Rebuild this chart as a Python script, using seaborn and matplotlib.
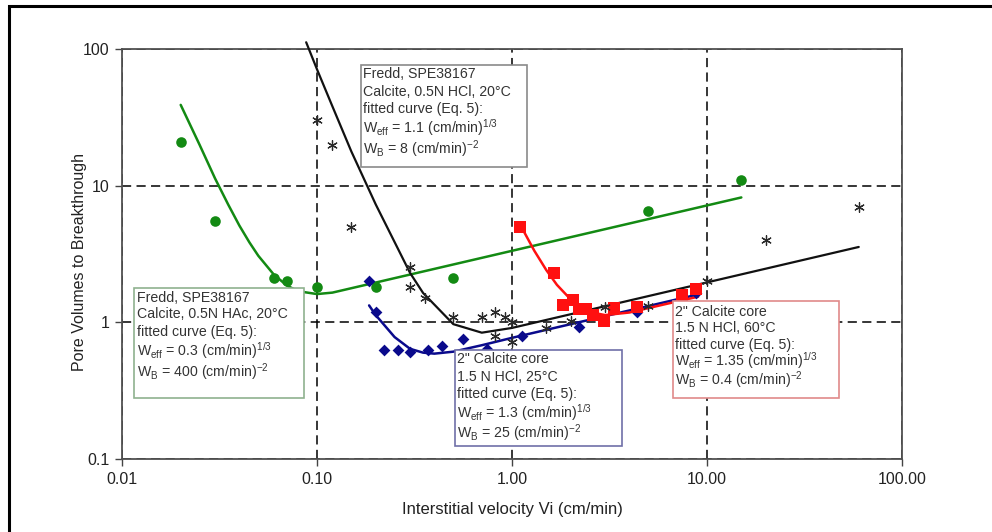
import matplotlib
matplotlib.use("Agg")
import matplotlib.pyplot as plt
from matplotlib.patches import Rectangle
import seaborn as sns

green_x = [0.02, 0.03, 0.06, 0.07, 0.1, 0.2, 0.5, 5, 15]
green_y = [21, 5.5, 2.1, 2.0, 1.8, 1.8, 2.1, 6.5, 11]

black_x = [0.1, 0.12, 0.15, 0.3, 0.3, 0.36, 0.5, 0.7, 0.82, 0.92, 1.0, 0.82, 1.0,
           1.5, 2.0, 3.0, 5.0, 10, 20, 60]
black_y = [30, 20, 5.0, 2.55, 1.8, 1.5, 1.1, 1.1, 1.2, 1.1, 1.0, 0.8, 0.72,
           0.91, 1.02, 1.3, 1.31, 2.0, 4.0, 7.0]

blue_x = [0.185, 0.2, 0.22, 0.26, 0.3, 0.37, 0.44, 0.56, 0.74, 1.12, 2.2, 4.4, 8.8]
blue_y = [2.0, 1.2, 0.63, 0.63, 0.61, 0.63, 0.67, 0.75, 0.64, 0.79, 0.93, 1.2, 1.63]

red_x = [1.1, 1.65, 1.83, 2.05, 2.21, 2.41, 2.59, 2.96, 3.33, 4.4, 7.4, 8.8]
red_y = [5.0, 2.3, 1.35, 1.45, 1.25, 1.25, 1.14, 1.03, 1.28, 1.30, 1.58, 1.74]

# fitted curves (Eq. 5)
green_fit_x = [0.02, 0.025, 0.03, 0.035, 0.04, 0.045, 0.05, 0.06, 0.07, 0.08, 0.1, 0.12, 15]
green_fit_y = [39, 19.9, 11.3, 7.3, 5.1, 3.85, 3.07, 2.24, 1.86, 1.69, 1.61, 1.65, 8.2]

black_fit_x = [0.088, 0.1, 0.12, 0.15, 0.2, 0.3, 0.35, 0.5, 0.7, 1, 60]
black_fit_y = [112, 71, 38, 17.8, 7.3, 2.3, 1.64, 0.97, 0.84, 0.91, 3.56]

blue_fit_x = [0.185, 0.2, 0.25, 0.3, 0.35, 0.4, 0.5, 0.7, 1, 9]
blue_fit_y = [1.33, 1.13, 0.78, 0.64, 0.60, 0.59, 0.61, 0.68, 0.77, 1.6]

red_fit_x = [1.1, 1.3, 1.5, 1.7, 2, 2.5, 3, 4, 6, 9]
red_fit_y = [5.2, 3.35, 2.41, 1.88, 1.47, 1.19, 1.13, 1.18, 1.35, 1.54]

x_ticks = [0.01, 0.1, 1, 10, 100]
x_tick_labels = ["0.01", "0.10", "1.00", "10.00", "100.00"]
y_ticks = [0.1, 1, 10, 100]
y_tick_labels = ["0.1", "1", "10", "100"]

GREEN = "#138a13"
BLUE = "#0a0a8c"
RED = "#ff1010"
BLACK = "#111111"

sns.set_style("white")
plt.rcParams["font.family"] = ["Liberation Sans", "DejaVu Sans"]
plt.rcParams["mathtext.fontset"] = "custom"
plt.rcParams["mathtext.rm"] = "Liberation Sans"
plt.rcParams["mathtext.it"] = "Liberation Sans:italic"

W, H = 992, 532
fig = plt.figure(figsize=(W / 100, H / 100), dpi=100)
ax = fig.add_axes([122 / W, 1 - 459 / H, 780 / W, 410 / H])

# fitted curves
sns.lineplot(x=green_fit_x, y=green_fit_y, color=GREEN, lw=1.8, sort=False, ax=ax, zorder=3)
sns.lineplot(x=black_fit_x, y=black_fit_y, color=BLACK, lw=1.6, sort=False, ax=ax,
             zorder=3, clip_on=False)
sns.lineplot(x=blue_fit_x, y=blue_fit_y, color=BLUE, lw=1.8, sort=False, ax=ax, zorder=3)
sns.lineplot(x=red_fit_x, y=red_fit_y, color=RED, lw=1.8, sort=False, ax=ax, zorder=3)

# measured points
sns.scatterplot(x=green_x, y=green_y, color=GREEN, marker="o", s=58, linewidth=0,
                ax=ax, zorder=4)
sns.scatterplot(x=blue_x, y=blue_y, color=BLUE, marker="D", s=36, linewidth=0,
                ax=ax, zorder=4)
sns.scatterplot(x=red_x, y=red_y, color=RED, marker="s", s=68, linewidth=0,
                ax=ax, zorder=4)
ax.scatter(black_x, black_y, marker=(6, 2, 0), s=48, color="#2a2a2a", linewidths=0.9,
           zorder=4)

ax.set_xscale("log")
ax.set_yscale("log")
ax.set_xlim(0.01, 100)
ax.set_ylim(0.1, 100)
ax.minorticks_off()
ax.set_xticks(x_ticks, x_tick_labels)
ax.set_yticks(y_ticks, y_tick_labels)
ax.tick_params(axis="both", which="major", direction="out", length=5, width=1,
               color="#444444", labelsize=11.5, labelcolor="#222222", pad=4,
               left=True, bottom=True)
ax.grid(True, which="major", color="black", lw=1.1, ls=(0, (6, 3.5)))
for side, sp in ax.spines.items():
    sp.set_color("#505050")
    sp.set_linewidth(1.3)

ax.set_xlabel("Interstitial velocity Vi (cm/min)", fontsize=12, color="#222222",
              labelpad=11)
ax.set_ylabel("Pore Volumes to Breakthrough", fontsize=11.5, color="#222222")
ax.yaxis.set_label_coords((87 - 122) / 780, 0.48)


def px(x, y):
    return x / W, 1 - y / H


def note_box(x0, y0, x1, y1, edge, tx, line_ys, lines):
    fig.add_artist(Rectangle(px(x0, y1), (x1 - x0) / W, (y1 - y0) / H,
                             transform=fig.transFigure, facecolor="white",
                             edgecolor=edge, lw=1.2, zorder=10))
    for ly, txt in zip(line_ys, lines):
        fig.text(*px(tx, ly + 5), txt, fontsize=10.2, color="#333333",
                 ha="left", va="baseline", zorder=11)


note_box(361, 65, 527, 167, "#8a8a8a", 363, [73, 91, 108, 128, 149],
         ["Fredd, SPE38167", "Calcite, 0.5N HCl, 20°C", "fitted curve (Eq. 5):",
          r"W$_\mathrm{eff}$ = 1.1 (cm/min)$^\mathrm{1/3}$",
          r"W$_\mathrm{B}$ = 8 (cm/min)$^\mathrm{-2}$"])
note_box(134, 288, 304, 398, "#8fb28f", 137, [297, 313, 331, 351, 372],
         ["Fredd, SPE38167", "Calcite, 0.5N HAc, 20°C", "fitted curve (Eq. 5):",
          r"W$_\mathrm{eff}$ = 0.3 (cm/min)$^\mathrm{1/3}$",
          r"W$_\mathrm{B}$ = 400 (cm/min)$^\mathrm{-2}$"])
note_box(455, 350, 622, 446, "#6f6fa8", 457, [358, 376, 393, 413, 433],
         ['2" Calcite core', "1.5 N HCl, 25°C", "fitted curve (Eq. 5):",
          r"W$_\mathrm{eff}$ = 1.3 (cm/min)$^\mathrm{1/3}$",
          r"W$_\mathrm{B}$ = 25 (cm/min)$^\mathrm{-2}$"])
note_box(673, 301, 839, 398, "#e08a8a", 675, [311, 327, 344, 361, 380],
         ['2" Calcite core', "1.5 N HCl, 60°C", "fitted curve (Eq. 5):",
          r"W$_\mathrm{eff}$ = 1.35 (cm/min)$^\mathrm{1/3}$",
          r"W$_\mathrm{B}$ = 0.4 (cm/min)$^\mathrm{-2}$"])

# page frame (top and left edges visible)
fig.add_artist(Rectangle((9 / W, -0.2), 1.3, 1.2 - 6 / H, transform=fig.transFigure,
                         fill=False, edgecolor="black", lw=2.2, zorder=20))

fig.savefig("out.png", dpi=100)
